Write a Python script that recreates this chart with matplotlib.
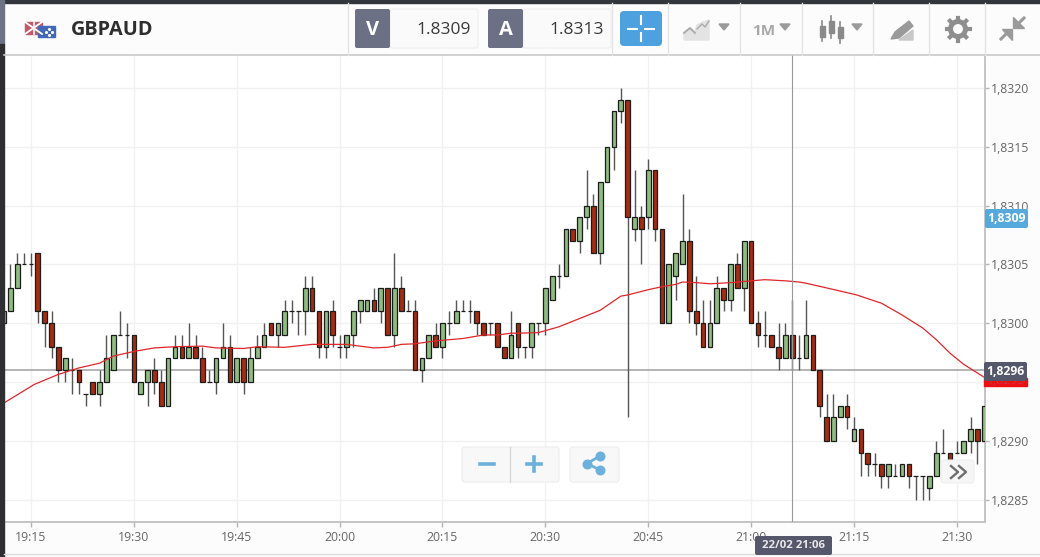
import numpy as np
import matplotlib
matplotlib.use("Agg")
import matplotlib.pyplot as plt
from matplotlib.patches import Rectangle, FancyBboxPatch, Circle, Polygon

plt.rcParams["font.family"] = ["Open Sans", "DejaVu Sans"]

# candles, one per minute from 19:11, in pips above 1.8000
opens = [300, 301, 303, 305, 305, 306, 301, 300, 298, 296,
         296, 296, 294, 295, 294, 295, 296, 299, 299, 299,
         294, 295, 296, 295, 293, 297, 298, 297, 298, 297,
         295, 295, 297, 298, 295, 297, 295, 297, 298, 300,
         299, 299, 301, 301, 301, 303, 301, 298, 301, 298,
         298, 299, 301, 301, 302, 301, 303, 299, 303, 301,
         301, 296, 297, 299, 298, 300, 300, 301, 301, 301,
         300, 300, 300, 298, 297, 300, 298, 298, 300, 300,
         302, 304, 304, 308, 307, 309, 310, 306, 312, 315,
         318, 319, 308, 309, 309, 313, 308, 300, 304, 305,
         307, 301, 300, 298, 300, 303, 302, 305, 303, 307,
         300, 299, 299, 298, 297, 299, 297, 297, 299, 296,
         292, 290, 292, 293, 290, 291, 289, 288, 288, 287,
         287, 287, 288, 287, 287, 286, 287, 289, 289, 289,
         289, 290, 291, 290]
closes = [301, 303, 305, 305, 305, 301, 300, 298, 296, 297,
          296, 295, 294, 294, 295, 297, 299, 299, 299, 295,
          295, 296, 295, 293, 297, 298, 297, 298, 297, 295,
          295, 297, 298, 295, 297, 295, 297, 298, 299, 299,
          300, 301, 301, 301, 303, 301, 298, 301, 299, 298,
          299, 301, 302, 302, 301, 303, 299, 303, 301, 301,
          296, 297, 299, 298, 300, 300, 301, 301, 301, 300,
          299, 300, 298, 297, 299, 298, 298, 300, 300, 303,
          304, 304, 308, 307, 309, 310, 306, 312, 315, 318,
          319, 309, 309, 308, 313, 308, 300, 305, 306, 307,
          301, 300, 298, 300, 303, 302, 305, 303, 307, 300,
          299, 299, 298, 297, 299, 297, 297, 299, 296, 293,
          290, 292, 293, 292, 291, 289, 288, 288, 287, 288,
          287, 288, 287, 287, 287, 287, 289, 289, 288, 289,
          290, 291, 290, 293]
highs = [301, 305, 306, 306, 306, 306, 301, 301, 298, 297,
         297, 296, 294, 295, 296, 299, 299, 301, 300, 299,
         295, 296, 297, 296, 297, 299, 299, 300, 299, 298,
         296, 297, 300, 299, 297, 297, 298, 299, 300, 300,
         300, 302, 302, 301, 304, 304, 301, 301, 302, 299,
         299, 301, 302, 302, 303, 303, 303, 306, 304, 302,
         302, 297, 299, 300, 300, 301, 302, 302, 302, 301,
         300, 300, 300, 298, 301, 300, 298, 300, 300, 303,
         304, 305, 308, 308, 309, 313, 311, 312, 315, 318,
         320, 319, 313, 310, 314, 313, 308, 305, 306, 311,
         308, 304, 302, 302, 304, 303, 305, 306, 307, 307,
         301, 301, 299, 300, 300, 302, 299, 302, 299, 296,
         294, 294, 293, 294, 292, 291, 289, 289, 288, 288,
         288, 288, 288, 287, 287, 287, 290, 291, 289, 290,
         290, 292, 291, 293]
lows = [300, 301, 303, 305, 304, 300, 298, 297, 295, 295,
        294, 294, 293, 294, 293, 295, 296, 299, 297, 295,
        294, 293, 294, 293, 293, 297, 297, 297, 297, 295,
        295, 294, 297, 295, 295, 294, 295, 297, 298, 299,
        298, 299, 300, 299, 299, 301, 297, 297, 298, 297,
        297, 298, 300, 301, 301, 300, 299, 298, 301, 301,
        296, 295, 297, 298, 297, 299, 300, 301, 300, 299,
        299, 299, 298, 297, 297, 297, 297, 297, 299, 299,
        302, 303, 304, 307, 306, 308, 306, 305, 312, 313,
        317, 292, 307, 305, 308, 307, 300, 300, 302, 305,
        300, 299, 298, 298, 300, 301, 301, 303, 301, 300,
        298, 298, 298, 296, 297, 296, 296, 297, 296, 292,
        290, 290, 292, 291, 290, 287, 287, 287, 286, 286,
        287, 287, 286, 285, 285, 285, 287, 289, 288, 289,
        289, 289, 288, 290]

# moving average, read at these candle positions
ma_pos = [0, 4.5, 8, 11, 14, 16, 19, 22, 25, 29, 31, 35, 37, 41, 45, 50, 54, 56,
          58, 60, 63, 67, 70, 72, 74, 75, 78, 81, 84, 87, 90, 91, 94, 96, 98, 99,
          101, 103, 106, 109, 111, 114, 116, 117, 121.5, 124.4, 128, 131, 134, 136,
          138, 140, 143]
ma_val = [293.2, 294.8, 295.65, 296.2, 296.6, 297.2, 297.6, 297.9, 298.0, 298.05,
          297.9, 297.85, 298.0, 297.95, 298.2, 298.2, 297.9, 297.95, 298.2, 298.25,
          298.5, 298.7, 299.0, 299.0, 299.15, 299.15, 299.2, 299.7, 300.4, 301.1,
          302.3, 302.4, 302.85, 303.1, 303.3, 303.5, 303.45, 303.35, 303.45, 303.6,
          303.7, 303.6, 303.5, 303.4, 302.8, 302.4, 301.7, 300.7, 299.6, 298.6,
          297.45, 296.5, 295.4]

y_ticks = [285, 290, 295, 300, 305, 310, 315, 320]
y_labels = ["1,8285", "1,8290", "", "1,8300", "1,8305", "1,8310", "1,8315", "1,8320"]
x_ticks = [4, 19, 34, 49, 64, 79, 94, 109, 124, 139]
x_labels = ["19:15", "19:30", "19:45", "20:00", "20:15", "20:30", "20:45", "21:00", "21:15", "21:30"]

GREEN = "#8fbc80"
RED = "#a62c10"
DARK_BOX = "#55576a"
BLUE = "#4da1df"
ICON = "#9a9a9a"
TICK_TXT = "#666666"

fig = plt.figure(figsize=(10.4, 5.57), dpi=100, facecolor="#fcfcfc")
ax = fig.add_axes([4 / 1040, 35 / 557, 981 / 1040, 467 / 557], facecolor="white")

x = np.arange(len(opens))
o = np.array(opens)
c = np.array(closes)
up = c >= o
colors = [GREEN if u else RED for u in up]

ax.axhline(296, color="#a0a0a0", lw=1.1, zorder=1)
ax.vlines(x, lows, highs, color="#555555", lw=1, zorder=2)
ax.bar(x, np.abs(c - o), bottom=np.minimum(o, c), width=0.68, color=colors,
       edgecolor="#1c1c1c", linewidth=0.9, zorder=3)
ax.plot(ma_pos, ma_val, color="#e0262a", lw=0.9, zorder=4)
ax.axvline(115, color="#999999", lw=0.8, zorder=5)

ax.set_xlim(0.07, 143.1)
ax.set_ylim(283.1, 322.8)
ax.set_xticks(x_ticks)
ax.set_xticklabels(x_labels, fontsize=8.8, color=TICK_TXT)
ax.yaxis.tick_right()
ax.set_yticks(y_ticks)
ax.set_yticklabels(y_labels, fontsize=8.8, color=TICK_TXT)
ax.tick_params(axis="x", length=3.6, width=1, color="#b5b5b5", pad=3)
ax.tick_params(axis="y", length=3, width=1, color="#b5b5b5", pad=1.5)
ax.grid(True, color="#f1f1f1", lw=1)
ax.set_axisbelow(True)
for side in ["top", "left"]:
    ax.spines[side].set_visible(False)
for side in ["right", "bottom"]:
    ax.spines[side].set_color("#c4c4c4")
    ax.spines[side].set_linewidth(1.4)

# everything around the chart is drawn in pixel coordinates
ui = fig.add_axes([0, 0, 1, 1], facecolor="none")
ui.set_xlim(0, 1040)
ui.set_ylim(557, 0)
ui.axis("off")


def box(x0, y0, x1, y1, color, ec="none", r=2, z=3):
    ui.add_patch(FancyBboxPatch((x0 + r, y0 + r), x1 - x0 - 2 * r, y1 - y0 - 2 * r,
                                boxstyle=f"round,pad={r},rounding_size={r}",
                                fc=color, ec=ec, lw=0.8, zorder=z))


# window edges
ui.add_patch(Rectangle((0, 0), 1040, 3, color="#33353d"))
ui.add_patch(Rectangle((0, 0), 4, 44, color="#6d7284"))
ui.add_patch(Rectangle((0, 44), 4, 513, color="#2f2f33"))
ui.plot([4, 1040], [55, 55], color="#c9c9c9", lw=1.2)
ui.plot([4, 1040], [554, 554], color="#dddddd", lw=1)
for sx in [348, 612, 668, 740, 802, 873, 929, 985]:
    ui.plot([sx, sx], [3, 55], color="#e4e4e4", lw=1)

# flags
ui.add_patch(Rectangle((25, 22), 17, 12, color="#c0596a"))
ui.plot([25, 42], [22, 34], color="white", lw=1.3)
ui.plot([25, 42], [34, 22], color="white", lw=1.3)
ui.plot([33.5, 33.5], [22, 34], color="#f0f0f5", lw=1.3)
ui.add_patch(Rectangle((38, 26), 17, 11, color="#4468b8"))
ui.scatter([49, 52, 46, 49], [29, 32, 32, 35], s=1.5, color="white")
ui.text(71, 30, "GBPAUD", fontsize=14.3, fontweight="bold", color="#2e2e2e", va="center")

# bid / ask
box(390, 9, 478, 48, "#fafafa", ec="#eeeeee")
box(355, 9, 390, 48, "#6b7085")
ui.text(372.5, 30, "V", fontsize=14.5, fontweight="bold", color="white", ha="center", va="center")
ui.text(471, 29.5, "1.8309", fontsize=12.5, color="#3a3a3a", ha="right", va="center")
box(523, 9, 611, 48, "#fafafa", ec="#eeeeee")
box(488, 9, 523, 48, "#6b7085")
ui.text(505.5, 30, "A", fontsize=14.5, fontweight="bold", color="white", ha="center", va="center")
ui.text(604, 29.5, "1.8313", fontsize=12.5, color="#3a3a3a", ha="right", va="center")

# crosshair button
box(620, 11, 662, 46, BLUE, r=4)
for seg in [([628, 637], [28.5, 28.5]), ([645, 654], [28.5, 28.5]),
            ([641, 641], [16, 24]), ([641, 641], [33, 41])]:
    ui.plot(seg[0], seg[1], color="white", lw=1.5, zorder=4)

# toolbar icons
ui.add_patch(Polygon([(684, 40), (684, 32), (690, 28), (695, 32), (697, 25), (703, 22), (709, 20), (709, 40)],
                     color="#e3e3e3"))
ui.plot([684, 690, 695], [33, 28, 33], color="#aaaaaa", lw=1.3)
ui.plot([697, 702, 705, 709], [29, 24, 27, 21], color="#aaaaaa", lw=1)
for tx in [724, 785, 857]:
    ui.add_patch(Polygon([(tx - 5, 24), (tx + 5, 24), (tx, 30)], color=ICON))
ui.text(764, 31, "1M", fontsize=11, fontweight="bold", color="#a8a8a8", ha="center", va="center")
for cx, t, b, bt, bb in [(822, 21, 41, 26, 37), (831, 16, 38, 21, 33), (840, 22, 43, 27, 38)]:
    ui.plot([cx, cx], [t, b], color="#8a8a8a", lw=1.2)
    ui.add_patch(Rectangle((cx - 2.5, bt), 5, bb - bt, color="#8a8a8a"))
ui.add_patch(Polygon([(891, 39), (895, 32), (909, 21), (913, 26), (899, 38)], color=ICON))
ui.add_patch(Polygon([(899, 40), (913, 30), (913, 40)], color="#c8c8c8"))
ui.add_patch(Circle((958, 29), 7.5, fc="none", ec="#8e8e8e", lw=3.6))
for ang in np.arange(0, 360, 45):
    dx, dy = np.cos(np.radians(ang)), np.sin(np.radians(ang))
    ui.plot([958 + 8 * dx, 958 + 11.5 * dx], [29 + 8 * dy, 29 + 11.5 * dy], color="#8e8e8e", lw=3)
# collapse arrows
ui.plot([1024, 1017], [18, 25], color=ICON, lw=2.2)
ui.add_patch(Polygon([(1013, 17), (1013, 28), (1024, 28)], color=ICON))
ui.plot([1001, 1008], [39, 32], color=ICON, lw=2.2)
ui.add_patch(Polygon([(1002, 29), (1012, 29), (1012, 40)], color=ICON))

# price labels on the right
box(985, 209, 1028, 228, "#56a9dc", r=2)
ui.text(1006.5, 219, "1,8309", fontsize=8.8, fontweight="bold", color="white", ha="center", va="center", zorder=5)
ui.add_patch(Rectangle((984, 378), 43, 8, color="#ee0f12", zorder=3))
ui.text(1005.5, 380, "1,8295", fontsize=8.8, color="#c9343a", ha="center", va="center", zorder=3.5)
box(984, 362, 1027, 381, DARK_BOX, r=2, z=4)
ui.text(1005.5, 371.5, "1,8296", fontsize=8.8, fontweight="bold", color="white", ha="center", va="center", zorder=5)
box(755, 536, 832, 555, DARK_BOX, r=2)
ui.text(793.5, 546, "22/02 21:06", fontsize=8.2, fontweight="bold", color="#e8e8ea", ha="center", va="center", zorder=5)

# floating chart buttons
box(462, 447, 559, 482, "#f8f8f8", ec="#ececec", r=3)
ui.plot([510, 510], [447, 482], color="#d8d8d8", lw=1, zorder=4)
ui.plot([480, 494], [464, 464], color="#6cb0dc", lw=2.6, zorder=4)
ui.plot([527, 541], [464, 464], color="#6cb0dc", lw=2.6, zorder=4)
ui.plot([534, 534], [457, 471], color="#6cb0dc", lw=2.6, zorder=4)
box(570, 447, 619, 482, "#f8f8f8", ec="#ececec", r=3)
ui.plot([600, 587, 600], [456, 463.5, 470], color="#6cb0dc", lw=2, zorder=4)
ui.scatter([600, 587, 600], [456, 463.5, 470], s=38, color="#6cb0dc", zorder=5)
box(941, 460, 974, 483, "#f6f6f6", ec="#eeeeee", r=3)
ui.plot([951, 958, 951], [466, 472, 478], color="#6e6e6e", lw=1.7, zorder=4)
ui.plot([959, 966, 959], [466, 472, 478], color="#6e6e6e", lw=1.7, zorder=4)

fig.savefig("out.png", dpi=100, facecolor=fig.get_facecolor())
